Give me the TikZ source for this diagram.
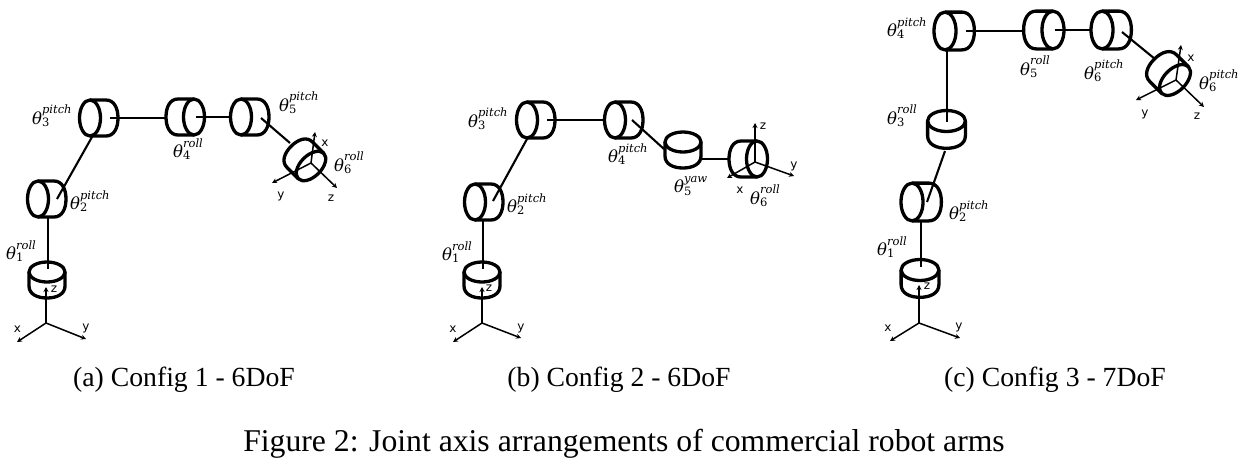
\documentclass[tikz,border=0pt]{standalone}
\usepackage{fontspec}
\setmainfont{Liberation Serif}
\newfontfamily\axfont{DejaVu Sans}
\newfontfamily\jointfont{DejaVu Serif}[ItalicFont={DejaVu Serif Italic}]
\usetikzlibrary{arrows.meta}
\newcommand{\jt}[2]{$\hbox{\fontsize{16.5}{18}\jointfont\itshape θ}_{\hbox{\fontsize{11.5}{12}\jointfont #1}}^{\hbox{\fontsize{11.5}{12}\jointfont\itshape #2}}$}
\tikzset{
  cyl/.style={line width=3.3pt,line join=round},
  linkline/.style={line width=2.1pt},
  axisline/.style={line width=1.5pt,-{Stealth[length=5pt,width=5pt]}},
  jl/.style={anchor=west,inner sep=0pt},
  axl/.style={inner sep=0pt,font=\fontsize{12}{14}\axfont},
  capt/.style={inner sep=0pt,font=\fontsize{27.7}{30}\selectfont},
  captf/.style={inner sep=0pt,font=\fontsize{31.7}{34}\selectfont},
  pitchcyl/.pic={
    \draw[cyl] (0,0) ellipse [x radius=10.5, y radius=18];
    \draw[cyl] (0,-18) -- (16,-18) .. controls (24,-18) and (28,-10) .. (28,0)
      .. controls (28,10) and (24,18) .. (16,18) -- (0,18);
  },
  rollcyl/.pic={
    \draw[cyl] (0,0) ellipse [x radius=10.5, y radius=18];
    \draw[cyl] (0,-18) -- (-16,-18) .. controls (-24,-18) and (-28,-10) .. (-28,0)
      .. controls (-28,10) and (-24,18) .. (-16,18) -- (0,18);
  },
  vertcyl/.pic={
    \draw[cyl] (0,0) ellipse [x radius=18, y radius=10];
    \draw[cyl] (-18,0) -- (-18,14) .. controls (-18,22) and (-10,26) .. (0,26)
      .. controls (10,26) and (18,22) .. (18,14) -- (18,0);
  },
}
\newcommand{\lk}[5]{\coordinate (#1s) at (#2,#3); \coordinate (#1e) at (#4,#5); \draw[linkline] (#1s) -- (#1e);}
\newcommand{\triad}[9]{\coordinate (#1o) at (#2,#3);
  \coordinate (#1x) at (#4,#5); \coordinate (#1y) at (#6,#7); \coordinate (#1z) at (#8,#9);
  \draw[axisline] (#1o) -- (#1x); \draw[axisline] (#1o) -- (#1y); \draw[axisline] (#1o) -- (#1z);}
\begin{document}
\begin{tikzpicture}[x=1pt,y=-1pt]
\useasboundingbox (0,0) rectangle (1248,464);
% ---------- Config 1
\pic at (47,272) {vertcyl};
\pic at (38,199) {pitchcyl};
\pic at (90,118) {pitchcyl};
\pic at (194,117) {rollcyl};
\pic at (241,117) {pitchcyl};
\pic[rotate=-45] at (311,166) {rollcyl};
\lk{aa}{48}{269}{48}{217}
\lk{ab}{57}{199}{92}{137}
\lk{ac}{110}{118}{166}{118}
\lk{ad}{196}{117}{231}{117}
\lk{ae}{261}{118}{290}{143}
\triad{at}{46}{323}{17}{342}{86}{339}{46}{287}
\triad{au}{311}{163}{315}{132}{272}{183}{337}{188}
\node[axl] (ax1) at (17.5,329) {x};
\node[axl] (ay1) at (86,328) {y};
\node[axl] (az1) at (54,289) {z};
\node[axl] (ax2) at (325,143) {x};
\node[axl] (ay2) at (281,196) {y};
\node[axl] (az2) at (331,198) {z};
\node[jl] (al1) at (6,251) {\jt{1}{roll}};
\node[jl] (al2) at (70,201) {\jt{2}{pitch}};
\node[jl] (al3) at (32,116) {\jt{3}{pitch}};
\node[jl] (al4) at (173,149) {\jt{4}{roll}};
\node[jl] (al5) at (279,103) {\jt{5}{pitch}};
\node[jl] (al6) at (334,163) {\jt{6}{roll}};
% ---------- Config 2
\pic at (482,272) {vertcyl};
\pic at (475,202) {pitchcyl};
\pic at (527,120) {pitchcyl};
\pic at (615,120) {pitchcyl};
\pic at (683,142) {vertcyl};
\pic at (757,159) {rollcyl};
\lk{ba}{483}{269}{483}{220}
\lk{bb}{493}{201}{527}{139}
\lk{bc}{547}{120}{605}{120}
\lk{bd}{632}{120}{664}{149}
\lk{be}{701}{159}{730}{159}
\triad{bt}{482}{323}{453}{342}{521}{338}{482}{287}
\triad{bu}{755}{162}{727}{178}{794}{176}{755}{123}
\node[axl] (bx1) at (453,329) {x};
\node[axl] (by1) at (521,328) {y};
\node[axl] (bz1) at (489,288) {z};
\node[axl] (bx2) at (740,190) {x};
\node[axl] (by2) at (794,166) {y};
\node[axl] (bz2) at (763,126) {z};
\node[jl] (bl1) at (442,252) {\jt{1}{roll}};
\node[jl] (bl2) at (507,204) {\jt{2}{pitch}};
\node[jl] (bl3) at (468,119) {\jt{3}{pitch}};
\node[jl] (bl4) at (608,154) {\jt{4}{pitch}};
\node[jl] (bl5) at (674,186) {\jt{5}{yaw}};
\node[jl] (bl6) at (750,196) {\jt{6}{roll}};
% ---------- Config 3
\pic[scale=1.05] at (920,270) {vertcyl};
\pic[scale=1.05] at (912,202) {pitchcyl};
\pic[scale=1.05] at (946.5,121) {vertcyl};
\pic[scale=1.05] at (945,31) {pitchcyl};
\pic[scale=1.05] at (1053,30) {rollcyl};
\pic[scale=1.05] at (1102,30) {pitchcyl};
\pic[rotate=-45,scale=1.05] at (1175,80) {rollcyl};
\lk{ca}{921}{267}{921}{222}
\lk{cb}{927}{202}{945}{151}
\lk{cc}{947}{122}{947}{50}
\lk{cd}{966}{31}{1024}{31}
\lk{ce}{1055}{30}{1091}{30}
\lk{cf}{1122}{32}{1155}{59}
\triad{ct}{919}{323}{890}{341}{960}{338}{919}{285}
\triad{cu}{1176}{80}{1181}{45}{1136}{100}{1204}{107}
\node[axl] (cx1) at (888,328) {x};
\node[axl] (cy1) at (959,327) {y};
\node[axl] (cz1) at (927,286) {z};
\node[axl] (cx2) at (1191,58) {x};
\node[axl] (cy2) at (1145,114) {y};
\node[axl] (cz2) at (1197,116) {z};
\node[jl] (cl1) at (877,247) {\jt{1}{roll}};
\node[jl] (cl2) at (949,211) {\jt{2}{pitch}};
\node[jl] (cl3) at (887,116) {\jt{3}{roll}};
\node[jl] (cl4) at (887,28) {\jt{4}{pitch}};
\node[jl] (cl5) at (1020,67) {\jt{5}{roll}};
\node[jl] (cl6) at (1084,71) {\jt{6}{pitch}};
\node[jl] (cl7) at (1199,81) {\jt{6}{pitch}};
% ---------- Captions
\node[capt] (capa) at (184,380) {(a) Config 1 - 6DoF};
\node[capt] (capb) at (619,380) {(b) Config 2 - 6DoF};
\node[capt] (capc) at (1055,380) {(c) Config 3 - 7DoF};
\node[captf] (capf) at (624,444) {Figure 2: Joint axis arrangements of commercial robot arms};
\end{tikzpicture}
\end{document}
